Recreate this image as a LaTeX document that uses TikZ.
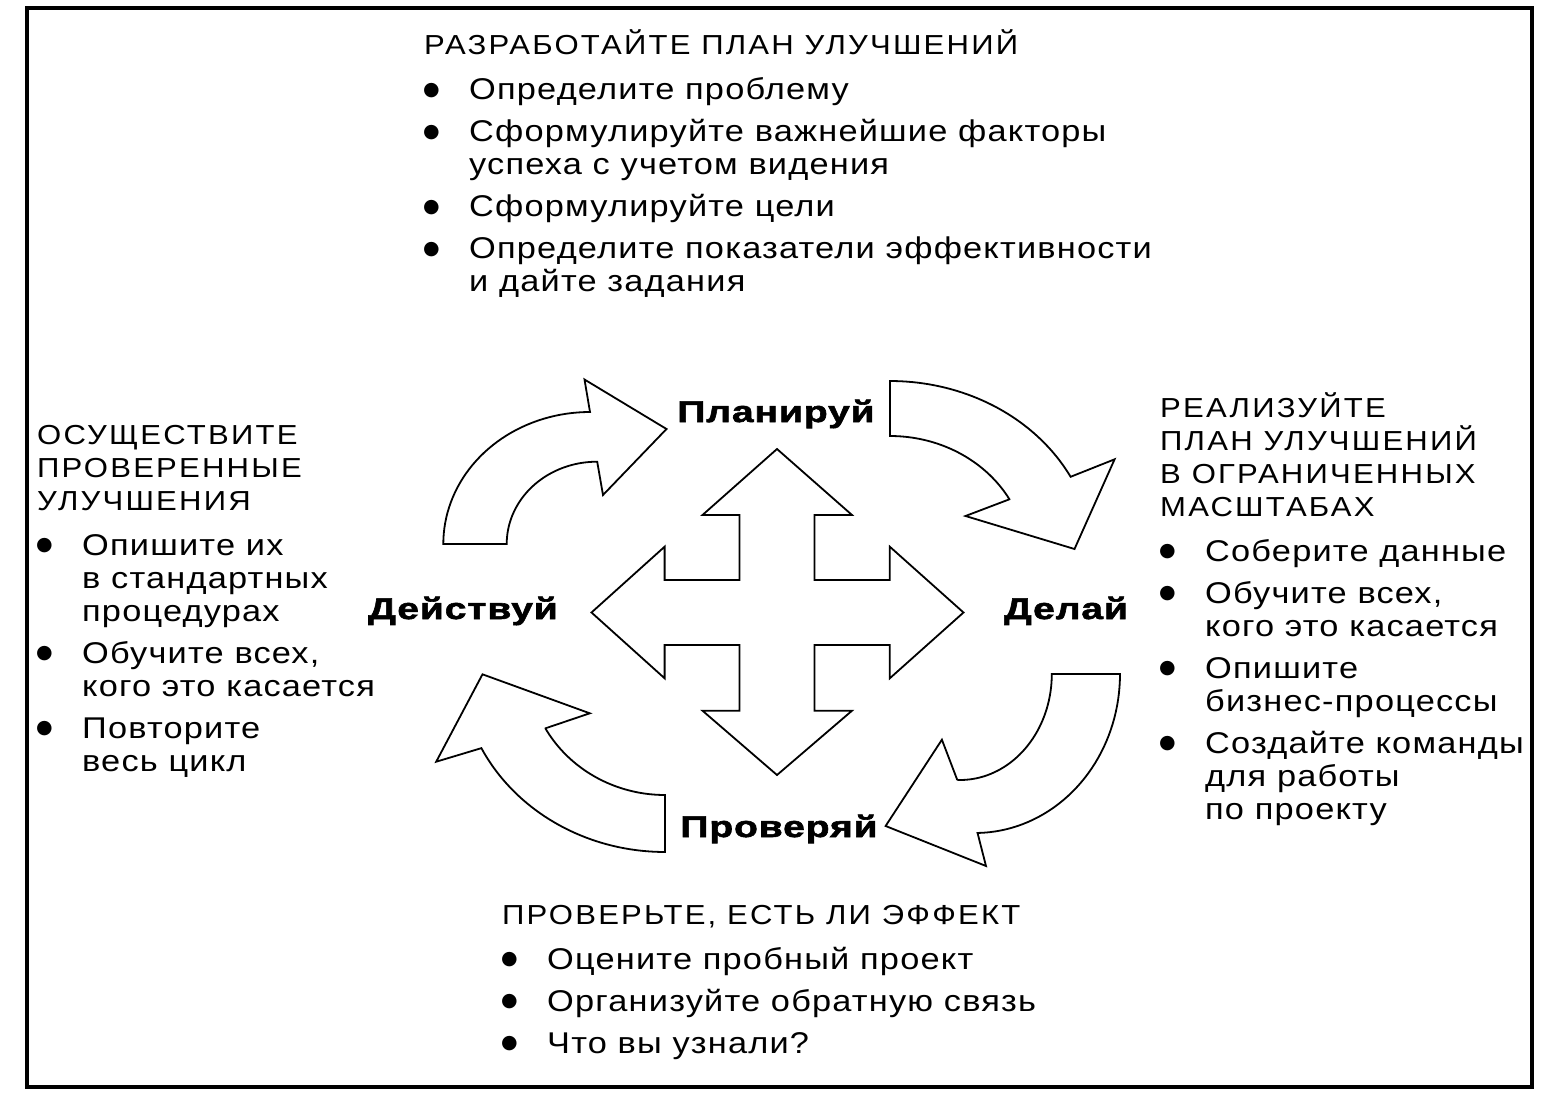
\documentclass[tikz,border=0pt]{standalone}
\usepackage{fontspec}
\setmainfont{Liberation Sans}
\newfontfamily\bodyfont{Liberation Sans}[FakeStretch=1.145,LetterSpace=4]
\newfontfamily\headfont{Liberation Sans}[FakeStretch=1.13,LetterSpace=8]
\newfontfamily\labfont{Liberation Sans}[FakeStretch=1.3,LetterSpace=3,FakeBold=2]
\newfontfamily\bulfont{DejaVu Sans}
\newlength\bind
\setlength\bind{45pt}
\newcommand\hl[1]{\hbox{\headfont\fontsize{27.5}{33}\selectfont #1}}
\newcommand\bul{\raisebox{4.5pt}{\bulfont\fontsize{19}{19}\selectfont ●}}
\newcommand\bi[1]{\hbox{\makebox[\bind][l]{\hspace*{-1pt}\bul}#1}}
\newcommand\bc[1]{\hbox{\hspace*{\bind}#1}}
\newcommand\igap{\vskip 9pt}
\newcommand\tgap{\vskip 12pt}
\newcommand\blockstart{\bodyfont\fontsize{30}{33}\selectfont\lineskiplimit=-100pt }
\begin{document}
\begin{tikzpicture}[x=1pt,y=-1pt,
  shapeline/.style={draw=black,line width=1.8pt,fill=white,line join=miter},
  lab/.style={font=\labfont\bfseries\fontsize{30}{32}\selectfont,inner sep=0pt,anchor=base},
  block/.style={inner sep=0pt,anchor=base west}]
\useasboundingbox (0,0) rectangle (1566,1115);
\fill[white] (0,0) rectangle (1566,1115);
\draw[line width=3.2pt] (27,8) rectangle (1532,1087);

% central four-way arrow
\draw[shapeline] (777,449) -- (852,515) -- (814.5,515) -- (814.5,580) -- (889.8,580) -- (889.8,546.7)
  -- (963.5,612.5) -- (889.8,678.3) -- (889.8,645) -- (814.5,645) -- (814.5,710.7) -- (852,710.7)
  -- (777,775) -- (702.5,710.7) -- (739.5,710.7) -- (739.5,645) -- (664.6,645) -- (664.6,678.3)
  -- (591.5,612.5) -- (664.6,546.7) -- (664.6,580) -- (739.5,580) -- (739.5,515) -- (702.5,515) -- cycle;

% upper-left curved arrow
\draw[shapeline] (506.7,544) -- (443.3,544)
  -- plot[domain=180:270,samples=40] ({590+146.7*cos(\x)},{544+132*sin(\x)})
  -- (584.5,379.5) -- (666.5,429) -- (603,495) -- (597.2,461.7)
  -- plot[domain=270:180,samples=40] ({597+90.3*cos(\x)},{544+82.3*sin(\x)}) -- cycle;

% upper-right curved arrow
\draw[shapeline] (890,436) -- (890,381)
  -- plot[domain=270:332.3,samples=40] ({890+204*cos(\x)},{560+179*sin(\x)})
  -- (1114.6,459.3) -- (1074.5,549) -- (965.5,516) -- (1009.4,499.3)
  -- plot[domain=330.6:270,samples=40] ({890+137*cos(\x)},{560+124*sin(\x)}) -- cycle;

% lower-right curved arrow
\draw[shapeline] (1051.8,674) -- (1120,674)
  -- plot[domain=0:89,samples=40] ({975+145*cos(\x)},{674+159*sin(\x)})
  -- (986,866) -- (885.6,826) -- (941.9,739.7) -- (957.3,780)
  -- plot[domain=91.7:0,samples=40] ({960+91.8*cos(\x)},{674+106*sin(\x)}) -- cycle;

% lower-left curved arrow
\draw[shapeline] (665,795) -- (665,852)
  -- plot[domain=90:153.6,samples=40] ({665+205*cos(\x)},{665+187*sin(\x)})
  -- (436.2,761.7) -- (482.5,674.3) -- (589.8,713.3) -- (545.5,728.3)
  -- plot[domain=150.7:90,samples=40] ({665+137*cos(\x)},{665+130*sin(\x)}) -- cycle;

% cycle labels
\node[lab] (plan) at (776,422) {Планируй};
\node[lab] (do) at (1066,619) {Делай};
\node[lab] (act) at (463,619) {Действуй};
\node[lab] (check) at (779,837) {Проверяй};

% text blocks
\node[block] (plantext) at (424,55) {\vtop{\blockstart
  \hl{РАЗРАБОТАЙТЕ ПЛАН УЛУЧШЕНИЙ}\tgap
  \bi{Определите проблему}\igap
  \bi{Сформулируйте важнейшие факторы}
  \bc{успеха с учетом видения}\igap
  \bi{Сформулируйте цели}\igap
  \bi{Определите показатели эффективности}
  \bc{и дайте задания}}};

\node[block] (acttext) at (37,444) {\vtop{\blockstart
  \hl{ОСУЩЕСТВИТЕ}
  \hl{ПРОВЕРЕННЫЕ}
  \hl{УЛУЧШЕНИЯ}\tgap
  \bi{Опишите их}
  \bc{в стандартных}
  \bc{процедурах}\igap
  \bi{Обучите всех,}
  \bc{кого это касается}\igap
  \bi{Повторите}
  \bc{весь цикл}}};

\node[block] (dotext) at (1160,417) {\vtop{\blockstart
  \hl{РЕАЛИЗУЙТЕ}
  \hl{ПЛАН УЛУЧШЕНИЙ}
  \hl{В ОГРАНИЧЕННЫХ}
  \hl{МАСШТАБАХ}\tgap
  \bi{Соберите данные}\igap
  \bi{Обучите всех,}
  \bc{кого это касается}\igap
  \bi{Опишите}
  \bc{бизнес-процессы}\igap
  \bi{Создайте команды}
  \bc{для работы}
  \bc{по проекту}}};

\node[block] (checktext) at (502,924) {\vtop{\blockstart
  \hl{ПРОВЕРЬТЕ, ЕСТЬ ЛИ ЭФФЕКТ}\tgap
  \bi{Оцените пробный проект}\igap
  \bi{Организуйте обратную связь}\igap
  \bi{Что вы узнали?}}};
\end{tikzpicture}
\end{document}
